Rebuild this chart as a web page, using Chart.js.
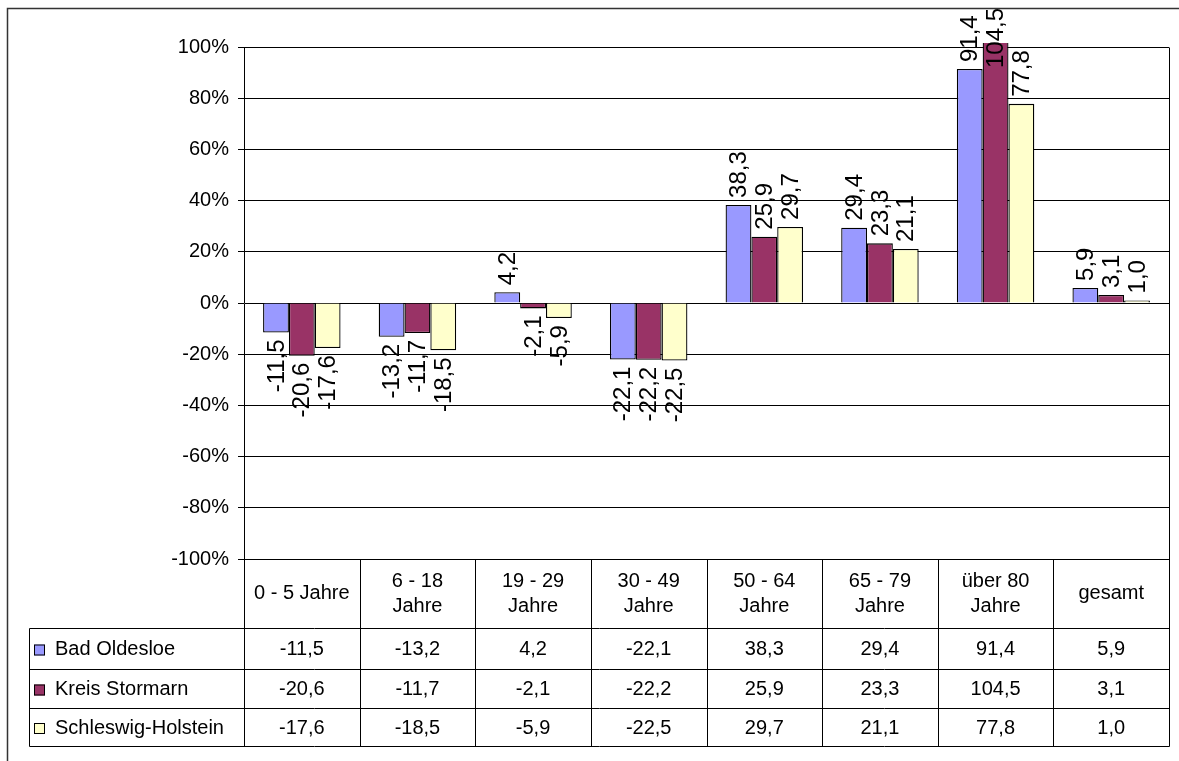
<!DOCTYPE html>
<html>
<head>
<meta charset="utf-8">
<script src="https://cdn.jsdelivr.net/npm/chart.js@4"></script>
<style>
  html, body { margin: 0; padding: 0; background: #fff; }
  #wrap { width: 1179px; height: 761px; position: relative; }
</style>
</head>
<body>
<div id="wrap"><canvas id="chart" width="1179" height="761"></canvas></div>
<script>
// Altersgruppen (Kopfzeile der Datentabelle)
const categories = [
  ['0 - 5 Jahre'], ['6 - 18', 'Jahre'], ['19 - 29', 'Jahre'], ['30 - 49', 'Jahre'],
  ['50 - 64', 'Jahre'], ['65 - 79', 'Jahre'], ['über 80', 'Jahre'], ['gesamt']
];
const seriesNames = ['Bad Oldesloe', 'Kreis Stormarn', 'Schleswig-Holstein'];
const badOldesloe = [-11.5, -13.2, 4.2, -22.1, 38.3, 29.4, 91.4, 5.9];
const kreisStormarn = [-20.6, -11.7, -2.1, -22.2, 25.9, 23.3, 104.5, 3.1];
const schleswigHolstein = [-17.6, -18.5, -5.9, -22.5, 29.7, 21.1, 77.8, 1.0];
const colors = ['#9999FF', '#993366', '#FFFFCC'];
const yTicks = { min: -100, max: 100, step: 20 };

const FONT = '"Liberation Sans", Arial, sans-serif';
const fmt = v => v.toFixed(1).replace('.', ',');

// Werte ueber/unter den Balken, senkrecht gedreht
const barLabels = {
  id: 'barLabels',
  afterDatasetsDraw(chart) {
    const ctx = chart.ctx;
    ctx.save();
    ctx.font = '24px ' + FONT;
    ctx.fillStyle = '#000';
    ctx.textBaseline = 'middle';
    chart.data.datasets.forEach((ds, di) => {
      chart.getDatasetMeta(di).data.forEach((bar, i) => {
        const v = ds.data[i];
        const txt = fmt(v);
        const w = ctx.measureText(txt).width;
        ctx.save();
        if (v >= 0) {
          let anchor = bar.y - 7;
          if (anchor - w < 8) anchor = 8 + w;
          ctx.translate(bar.x, anchor);
          ctx.rotate(-Math.PI / 2);
          ctx.textAlign = 'left';
        } else {
          ctx.translate(bar.x, bar.y + 7);
          ctx.rotate(-Math.PI / 2);
          ctx.textAlign = 'right';
        }
        ctx.fillText(txt, 0, 1);
        ctx.restore();
      });
    });
    ctx.restore();
  }
};

// Datentabelle unter dem Diagramm + Rahmen
const dataTable = {
  id: 'dataTable',
  afterDraw(chart) {
    const ctx = chart.ctx;
    const a = chart.chartArea;
    const n = categories.length;
    const cw = (a.right - a.left) / n;
    const rows = [a.bottom, 628, 669, 708, 746];
    const tableLeft = 29;
    ctx.save();
    ctx.strokeStyle = '#000';
    ctx.lineWidth = 1;
    const line = (x1, y1, x2, y2) => {
      ctx.beginPath();
      ctx.moveTo(Math.round(x1) + 0.5, Math.round(y1) + 0.5);
      ctx.lineTo(Math.round(x2) + 0.5, Math.round(y2) + 0.5);
      ctx.stroke();
    };
    // rechte Kante der Zeichenflaeche
    line(a.right, a.top, a.right, rows[4]);
    for (let i = 0; i < n; i++) line(a.left + i * cw, rows[0], a.left + i * cw, rows[4]);
    line(tableLeft, rows[1], tableLeft, rows[4]);
    for (let r = 1; r < rows.length; r++) line(tableLeft, rows[r], a.right, rows[r]);

    ctx.fillStyle = '#000';
    ctx.font = '20px ' + FONT;
    ctx.textAlign = 'center';
    ctx.textBaseline = 'middle';
    const headMid = (rows[0] + rows[1]) / 2;
    categories.forEach((lines, i) => {
      const cx = a.left + (i + 0.5) * cw;
      lines.forEach((t, k) => {
        const y = headMid + (k - (lines.length - 1) / 2) * 25;
        ctx.fillText(t, cx, y);
      });
    });
    const series = [badOldesloe, kreisStormarn, schleswigHolstein];
    series.forEach((vals, s) => {
      const y = (rows[s + 1] + rows[s + 2]) / 2 + 1;
      ctx.textAlign = 'center';
      vals.forEach((v, i) => ctx.fillText(fmt(v), a.left + (i + 0.5) * cw, y));
      ctx.fillStyle = colors[s];
      ctx.fillRect(34, y - 5, 11, 11);
      ctx.strokeRect(34.5, y - 4.5, 10, 10);
      ctx.fillStyle = '#000';
      ctx.textAlign = 'left';
      ctx.fillText(seriesNames[s], 55, y);
    });
    // aeusserer Rahmen
    ctx.strokeStyle = '#333';
    ctx.lineWidth = 1.5;
    ctx.strokeRect(7.5, 8.5, 1300, 900);
    ctx.restore();
  }
};

new Chart(document.getElementById('chart'), {
  type: 'bar',
  data: {
    labels: categories,
    datasets: [badOldesloe, kreisStormarn, schleswigHolstein].map((d, i) => ({
      label: seriesNames[i],
      data: d,
      backgroundColor: colors[i],
      borderColor: '#000',
      borderWidth: 1.3,
      categoryPercentage: 0.67,
      barPercentage: 1,
      clip: { left: 0, top: 4, right: 0, bottom: 0 }
    }))
  },
  options: {
    responsive: false,
    animation: false,
    layout: { padding: { left: 0, top: 47, right: 10, bottom: 202 } },
    plugins: { legend: { display: false }, tooltip: { enabled: false } },
    scales: {
      x: { display: false },
      y: {
        min: yTicks.min,
        max: yTicks.max,
        afterFit(scale) { scale.width = 244; },
        ticks: {
          stepSize: yTicks.step,
          padding: 9,
          color: '#000',
          font: { family: FONT, size: 20 },
          callback: v => v + '%'
        },
        grid: { color: '#000', lineWidth: 1, tickLength: 6 },
        border: { color: '#000', width: 1 }
      }
    }
  },
  plugins: [barLabels, dataTable]
});
</script>
</body>
</html>
